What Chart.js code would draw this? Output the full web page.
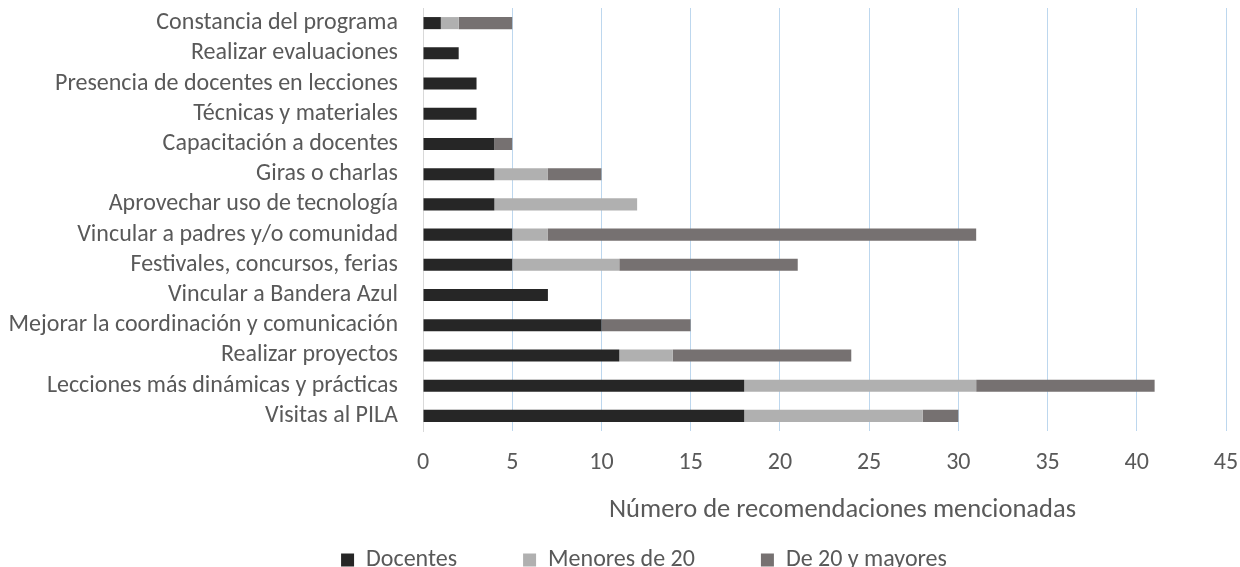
<!DOCTYPE html>
<html>
<head>
<meta charset="utf-8">
<script src="https://cdn.jsdelivr.net/npm/chart.js@4/dist/chart.umd.min.js"></script>
<style>
  html, body { margin: 0; padding: 0; background: #ffffff; }
  #wrap { width: 1240px; height: 567px; position: relative; }
</style>
</head>
<body>
<div id="wrap"><canvas id="c" width="1240" height="567"></canvas></div>
<script>
const categories = [
  "Constancia del programa",
  "Realizar evaluaciones",
  "Presencia de docentes en lecciones",
  "Técnicas y materiales",
  "Capacitación a docentes",
  "Giras o charlas",
  "Aprovechar uso de tecnología",
  "Vincular a padres y/o comunidad",
  "Festivales, concursos, ferias",
  "Vincular a Bandera Azul",
  "Mejorar la coordinación y comunicación",
  "Realizar proyectos",
  "Lecciones más dinámicas y prácticas",
  "Visitas al PILA"
];
const docentes    = [1, 2, 3, 3, 4, 4, 4, 5, 5, 7, 10, 11, 18, 18];
const menores20   = [1, 0, 0, 0, 0, 3, 8, 2, 6, 0, 0, 3, 13, 10];
const de20Mayores = [3, 0, 0, 0, 1, 3, 0, 24, 10, 0, 5, 10, 10, 2];
const seriesNames = ["Docentes", "Menores de 20", "De 20 y mayores"];
const xTicks = [0, 5, 10, 15, 20, 25, 30, 35, 40, 45];
const axisTitle = "Número de recomendaciones mencionadas";

const FONT = "Carlito, Lato, 'Open Sans', sans-serif";
const FS = 24;
const FS_TITLE = 26.5;
const TXT = "#595959";

const layoutTweaks = {
  id: 'layoutTweaks',
  afterLayout(chart) {
    const lg = chart.legend;
    if (lg) {
      const pad = lg.options.labels.padding;
      const targetCenter = 560;
      const newTop = targetCenter - FS / 2 - pad;
      const dx = 31;
      lg.top = newTop;
      lg.bottom = newTop + pad + FS + 12;
      lg.height = lg.bottom - lg.top;
      lg.left += dx; lg.right += dx;
    }
  },
  beforeDraw(chart) {
    const sx = chart.scales.x;
    if (sx && !sx._titleShifted) {
      const orig = sx.drawTitle;
      sx.drawTitle = function () {
        const ctx = this.ctx;
        ctx.save();
        ctx.translate(18, 0);
        orig.apply(this, arguments);
        ctx.restore();
      };
      sx._titleShifted = true;
    }
  }
};

new Chart(document.getElementById('c'), {
  type: 'bar',
  data: {
    labels: categories,
    datasets: [
      { label: seriesNames[0], data: docentes, backgroundColor: '#262626' },
      { label: seriesNames[1], data: menores20, backgroundColor: '#b0b0b0' },
      { label: seriesNames[2], data: de20Mayores, backgroundColor: '#767171' }
    ]
  },
  options: {
    indexAxis: 'y',
    responsive: false,
    animation: false,
    devicePixelRatio: 1,
    layout: { padding: { left: 0, right: 14, top: 8, bottom: 0 } },
    datasets: { bar: { barPercentage: 0.4, categoryPercentage: 1.0, borderWidth: 0 } },
    scales: {
      x: {
        stacked: true,
        min: 0, max: 45,
        afterBuildTicks(scale) { scale.ticks = xTicks.map(v => ({ value: v })); },
        afterFit(scale) {
          scale.height = 106;
          scale.paddingLeft = 0; scale.paddingRight = 0;
        },
        grid: {
          color: (ctx) => (ctx.tick && ctx.tick.value === 0) ? '#d9d9d9' : '#bdd7ee',
          lineWidth: 1,
          drawTicks: false
        },
        border: { display: false },
        ticks: { color: TXT, font: { family: FONT, size: FS }, padding: 18 },
        title: {
          display: true, text: axisTitle, color: TXT,
          font: { family: FONT, size: FS_TITLE },
          padding: { top: 0, bottom: 11 }
        }
      },
      y: {
        stacked: true,
        afterFit(scale) {
          scale.width = 423;
          scale.paddingTop = 0; scale.paddingBottom = 0;
        },
        grid: { display: false, drawTicks: false },
        border: { display: true, color: '#d9d9d9', width: 1 },
        ticks: { color: TXT, font: { family: FONT, size: FS }, padding: 25, autoSkip: false }
      }
    },
    plugins: {
      legend: {
        position: 'bottom',
        maxHeight: 30,
        labels: {
          color: TXT,
          font: { family: FONT, size: FS },
          boxWidth: 13, boxHeight: 13,
          padding: 66
        }
      },
      tooltip: { enabled: false }
    }
  },
  plugins: [layoutTweaks]
});
</script>
</body>
</html>
